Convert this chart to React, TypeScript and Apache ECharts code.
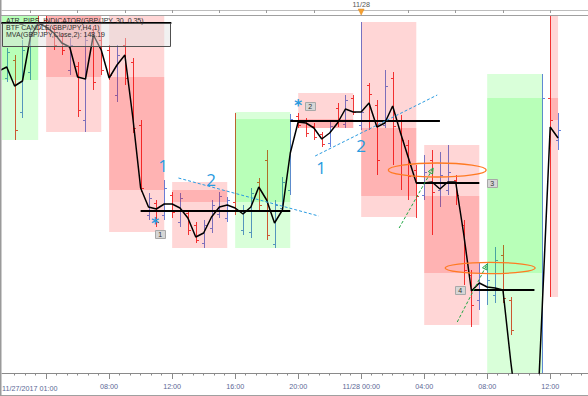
import React, { useEffect, useRef } from "react";
import * as echarts from "echarts";

// Time axis: hours since 11/27/2017 00:00. Prices: GBP/JPY.
// ---- 30-minute OHLC bars ----
const barTime = [1.5,2,2.5,3,3.5,4,4.5,5,5.5,6,6.5,7,7.5,8,8.5,9,9.5,10,10.5,11,11.5,12,12.5,13,13.5,14,14.5,15,15.5,16,16.5,17,17.5,18,18.5,19,19.5,20,20.5,21,21.5,22,22.5,23,23.5,24,24.5,25,25.5,26,26.5,27,27.5,28,28.5,29,29.5,30,30.5,31,31.5,32,32.5,33,33.5,34,34.5,35,35.5,36,36.5];
const barOpen = [148.44,148.53,148.27,148.47,148.74, 148.73,148.69,148.65,148.48,148.50,148.23,148.67,148.63, 148.58,148.355,148.605,148.52,148.205,147.755,147.815,147.755, 147.855,147.72,147.765,147.705,147.615,147.69,147.76,147.74, 147.82,147.68,147.67,147.92,148.03,147.61,147.79,147.88, 148.25,148.23,148.20,148.16,148.115,148.29,148.21,148.34, 148.205,148.405,148.305,148.205,148.44,148.23,148.105,147.98, 147.855,148.03,147.88,147.88,147.93,147.705,147.455,147.33, 147.38,147.355,147.555,147.33,146.905,146.63,146.53,146.48, 148.34,148.13];
const barHigh = [148.59,148.555,148.63,148.69,148.76, 148.75,148.705,148.665,148.64,148.52,148.67,148.70,148.67, 148.605,148.605,148.64,148.54,148.23,147.865,147.83,147.93, 147.87,147.865,147.78,147.72,147.73,147.83,147.87,147.845, 148.265,147.805,147.89,147.94,148.08,147.83,147.945,148.26, 148.265,148.24,148.215,148.17,148.22,148.315,148.355,148.355, 148.72,148.415,148.33,148.48,148.47,148.255,148.13,148.005, 148.055,148.08,148.07,148.105,147.955,147.73,147.48,147.515, 147.52,147.595,147.605,147.345,146.93,146.73,146.63,148.46, 148.78,148.265];
const barLow = [148.42,148.13,148.24,148.43,148.665, 148.67,148.58,148.555,148.455,148.245,148.17,148.38,148.455, 148.43,148.32,148.405,148.165,147.87,147.73,147.695,147.73, 147.74,147.695,147.655,147.615,147.59,147.665,147.74,147.72, 147.755,147.655,147.64,147.78,147.63,147.59,147.77,147.855, 148.19,148.145,148.13,148.095,148.095,148.195,148.19,148.255, 148.18,148.18,147.955,148.19,148.005,147.88,147.83,147.74, 147.83,147.655,147.795,147.855,147.805,147.405,147.195,147.28, 147.305,147.315,147.315,147.155,146.53,146.43,146.23,146.43, 147.345,148.08];
const barClose = [148.57,148.18,148.58,148.67,148.69, 148.69,148.605,148.58,148.605,148.28,148.63,148.42,148.48, 148.455,148.555,148.44,148.19,147.89,147.84,147.72,147.89, 147.77,147.84,147.68,147.63,147.705,147.805,147.85,147.83, 147.78,147.78,147.865,147.805,147.655,147.805,147.92,148.235, 148.205,148.165,148.145,148.11,148.20,148.23,148.33,148.27, 148.27,148.36,148.03,148.40,148.20,148.13,147.95,147.85, 147.97,147.87,147.955,147.97,147.855,147.48,147.305,147.465, 147.43,147.53,147.34,147.18,146.58,146.48,146.33,148.34, 148.23,148.18];

// ---- MVA(Close,2) ----
const mvaTime = [1,1.5,2,2.5,3,3.5,4,4.5,5,5.5,6,6.5,7,7.5,8,8.5,9,9.5,10,10.5,11,11.5,12,12.5,13,13.5,14,14.5,15,15.5,16,16.5,17,17.5,18,18.5,19,19.5,20,20.5,21,21.5,22,22.5,23,23.5,24,24.5,25,25.5,26,26.5,27,27.5,28,28.5,29,29.5,30,30.5,31,31.5,32,32.5,33,33.5,34,34.5,35,35.5,36,36.5];
const mvaValue = [148.475,148.495,148.40,148.425,148.645,148.715, 148.695,148.665,148.615,148.595,148.445,148.435,148.655,148.58, 148.44,148.505,148.555,148.245,147.89,147.795,147.785,147.81, 147.81,147.79,147.74,147.645,147.665,147.745,147.795,147.805, 147.79,147.76,147.795,147.895,147.83,147.715,147.78,148.065, 148.22,148.215,148.19,148.135,148.165,148.215,148.285,148.27, 148.27,148.315,148.195,148.215,148.30,148.165,148.04,147.915, 147.915,147.92,147.885,147.92,147.92,147.665,147.375,147.415, 147.395,147.39,147.38,147.02,146.705,146.63,146.43,147.305, 148.195,148.14];

// ---- BTF H4 candles ----
const candleStart = [0,4,8,12,16,20,24,28,32,36];
const candleEnd = [3.5,7.5,11.5,15.5,19.5,23.5,27.5,31.5,35.5,36.5];
const candleOpen = [148.43,148.77,148.445,147.88,147.82,148.235,148.19,147.85,147.465,148.34];
const candleHigh = [148.78,148.78,148.76,147.92,148.27,148.365,148.72,148.105,148.46,148.78];
const candleLow = [148.13,148.17,147.67,147.59,147.59,148.19,147.745,147.205,146.43,147.345];
const candleClose = [148.76,148.445,147.88,147.82,148.235,148.19,147.85,147.465,148.34,148.23];

// ---- horizontal levels ----
const levelStart = [1, 10, 19.5, 27.5, 31];
const levelEnd = [11.95, 19.5, 29, 31.5, 35];
const levelPrice = [148.715, 147.775, 148.225, 147.915, 147.38];

// ---- trend lines ----
const trendT1 = [12.4, 21.08];
const trendP1 = [147.94, 148.05];
const trendT2 = [21.3, 28.83];
const trendP2 = [147.75, 148.355];

// ---- wave labels ----
const waveText = ["1", "2", "1", "2", "*", "*"];
const waveTime = [11.43, 14.48, 21.46, 24.0, 10.92, 20.0];
const wavePrice = [148.005, 147.935, 147.995, 148.105, 147.71, 148.3];

// ---- numbered markers ----
const markerText = ["1", "2", "3", "4"];
const markerTime = [11.24, 20.76, 32.32, 30.29];
const markerPrice = [147.66, 148.3, 147.915, 147.38];

// ---- ellipses ----
const ellTime = [28.83, 32.19];
const ellPrice = [147.98, 147.49];
const ellHalfHours = [3.11, 2.86];
const ellHalfPrice = [0.035, 0.028];

// ---- arrows ----
const arrowFromT = [26.41, 30.1];
const arrowFromP = [147.69, 147.22];
const arrowToT = [28.57, 32.0];
const arrowToP = [147.99, 147.51];

// ---- axes ----
const axisMin = 1.2;
const axisMax = 38.4;
const majorTickHours = [4, 8, 12, 16, 20, 24, 28, 32, 36];
const topTickHours = [3, 6, 9, 12, 15, 18, 21, 24, 27, 30, 33, 36];
const bottomLabelHours = [8, 12, 16, 20, 24, 28, 32, 36];
const bottomLabelText = ["08:00", "12:00", "16:00", "20:00", "11/28 00:00", "04:00", "08:00", "12:00"];
const firstLabel = "11/27/2017 01:00";
const topLabelHour = 24;
const topLabelText = "11/28";
const legendLines = ["ATR_PIPS_INDICATOR(GBP/JPY, 30, 0.35)", "BTF CANDLE(GBP/JPY,H4,1)", "MVA(GBP/JPY,Close,2): 148.19"];

const UP = "#6483de";
const DOWN = "#f03a3a";
const BLUE = "#2a9be0";
const GREEN = "#22a844";
const ORANGE = "#ff7a22";
const AXIS_TXT = "#5c6896";

function buildOption() {
  // minor ticks every 40 minutes between the 4-hour major ticks
  const minorTickHours: number[] = [];
  for (let k = -3; k <= 60; k++) {
    const h = 4 + (k * 2) / 3;
    if (h > axisMin && h < axisMax && Math.abs(h - Math.round(h / 4) * 4) > 0.01) minorTickHours.push(h);
  }

  const series: any[] = [];

  series.push({
    type: "custom",
    clip: true,
    z: 2,
    data: barTime.map((t, i) => [t, barOpen[i], barHigh[i], barLow[i], barClose[i]]),
    encode: { x: 0, y: [1, 2, 3, 4] },
    renderItem: (params: any, api: any) => {
      const t = api.value(0);
      const o = api.value(1), h = api.value(2), l = api.value(3), c = api.value(4);
      const pH = api.coord([t, h]), pL = api.coord([t, l]);
      const pO = api.coord([t, o]), pC = api.coord([t, c]);
      const x = Math.round(pH[0]) + 0.5;
      const col = c >= o ? UP : DOWN;
      const yo = Math.round(pO[1]) + 0.5, yc = Math.round(pC[1]) + 0.5;
      return {
        type: "group",
        children: [
          { type: "line", shape: { x1: x, y1: pH[1], x2: x, y2: pL[1] }, style: { stroke: col, lineWidth: 1 } },
          { type: "line", shape: { x1: x - 2.5, y1: yo, x2: x, y2: yo }, style: { stroke: col, lineWidth: 1 } },
          { type: "line", shape: { x1: x, y1: yc, x2: x + 2.5, y2: yc }, style: { stroke: col, lineWidth: 1 } },
        ],
      };
    },
  });

  series.push({
    type: "custom",
    clip: true,
    z: 3,
    data: candleStart.map((s, i) => [s, candleEnd[i], candleOpen[i], candleHigh[i], candleLow[i], candleClose[i]]),
    encode: { x: [0, 1], y: [2, 3, 4, 5] },
    renderItem: (params: any, api: any) => {
      const t0 = api.value(0), t1 = api.value(1);
      const o = api.value(2), h = api.value(3), l = api.value(4), c = api.value(5);
      const a = api.coord([t0, h]), b = api.coord([t1, l]);
      const po = api.coord([t0, o]), pc = api.coord([t1, c]);
      const fill = c >= o ? "rgba(0,255,0,0.15)" : "rgba(255,0,0,0.16)";
      return {
        type: "group",
        children: [
          { type: "rect", shape: { x: a[0], y: a[1], width: b[0] - a[0], height: b[1] - a[1] }, style: { fill } },
          { type: "rect", shape: { x: po[0], y: Math.min(po[1], pc[1]), width: pc[0] - po[0], height: Math.abs(pc[1] - po[1]) }, style: { fill } },
        ],
      };
    },
  });

  series.push({
    type: "line",
    data: mvaTime.map((t, i) => [t, mvaValue[i]]),
    symbol: "none",
    showSymbol: false,
    clip: true,
    z: 5,
    lineStyle: { color: "#000", width: 1.5 },
  });

  levelStart.forEach((s, i) => {
    series.push({
      type: "line",
      data: [[s, levelPrice[i]], [levelEnd[i], levelPrice[i]]],
      symbol: "none",
      clip: true,
      z: 5,
      lineStyle: { color: "#000", width: 2 },
    });
  });

  trendT1.forEach((t, i) => {
    series.push({
      type: "line",
      data: [[t, trendP1[i]], [trendT2[i], trendP2[i]]],
      symbol: "none",
      clip: true,
      z: 6,
      lineStyle: { color: BLUE, width: 1, type: [3, 2] },
    });
  });

  series.push({
    type: "custom",
    clip: true,
    z: 7,
    data: ellTime.map((t, i) => [t, ellPrice[i]]),
    encode: { x: 0, y: 1 },
    renderItem: (params: any, api: any) => {
      const i = params.dataIndex;
      const p = api.coord([api.value(0), api.value(1)]);
      const rx = api.size([ellHalfHours[i], 0])[0];
      const ry = api.size([0, ellHalfPrice[i]])[1];
      return { type: "ellipse", shape: { cx: p[0], cy: p[1], rx, ry }, style: { fill: "none", stroke: ORANGE, lineWidth: 1.3 } };
    },
  });

  series.push({
    type: "custom",
    clip: true,
    z: 7,
    data: arrowFromT.map((t, i) => [t, arrowFromP[i], arrowToT[i], arrowToP[i]]),
    encode: { x: [0, 2], y: [1, 3] },
    renderItem: (params: any, api: any) => {
      const a = api.coord([api.value(0), api.value(1)]);
      const b = api.coord([api.value(2), api.value(3)]);
      const ang = Math.atan2(b[1] - a[1], b[0] - a[0]);
      const hl = 6, sp = 0.42;
      const h1 = [b[0] - hl * Math.cos(ang - sp), b[1] - hl * Math.sin(ang - sp)];
      const h2 = [b[0] - hl * Math.cos(ang + sp), b[1] - hl * Math.sin(ang + sp)];
      return {
        type: "group",
        children: [
          { type: "line", shape: { x1: a[0], y1: a[1], x2: b[0], y2: b[1] }, style: { stroke: GREEN, lineWidth: 1, lineDash: [3, 2] } },
          { type: "polygon", shape: { points: [h1, [b[0], b[1]], h2] }, style: { stroke: GREEN, lineWidth: 1, fill: "none" } },
        ],
      };
    },
  });

  series.push({
    type: "custom",
    clip: true,
    z: 8,
    data: waveTime.map((t, i) => [t, wavePrice[i]]),
    encode: { x: 0, y: 1 },
    renderItem: (params: any, api: any) => {
      const i = params.dataIndex;
      const p = api.coord([api.value(0), api.value(1)]);
      const star = waveText[i] === "*";
      return {
        type: "text",
        x: p[0],
        y: p[1],
        style: {
          text: waveText[i],
          fill: BLUE,
          fontSize: star ? 15 : 17,
          fontWeight: star ? "bold" : "normal",
          fontFamily: star ? "DejaVu Sans" : "Open Sans",
          align: "center",
          verticalAlign: "middle",
        },
      };
    },
  });

  series.push({
    type: "custom",
    clip: true,
    z: 8,
    data: markerTime.map((t, i) => [t, markerPrice[i]]),
    encode: { x: 0, y: 1 },
    renderItem: (params: any, api: any) => {
      const i = params.dataIndex;
      const p = api.coord([api.value(0), api.value(1)]);
      return {
        type: "group",
        children: [
          { type: "rect", shape: { x: Math.round(p[0]) - 5 + 0.5, y: Math.round(p[1]) - 4 + 0.5, width: 10, height: 8 }, style: { fill: "#d6d6d6", stroke: "#a8a8a8", lineWidth: 1 } },
          { type: "text", x: p[0], y: p[1] + 0.5, style: { text: markerText[i], fill: "#333", fontSize: 7, fontFamily: "Liberation Sans", align: "center", verticalAlign: "middle" } },
        ],
      };
    },
  });

  series.push({
    type: "custom",
    clip: false,
    z: 9,
    data: [[topLabelHour, 148.75]],
    encode: { x: 0, y: 1 },
    renderItem: (params: any, api: any) => {
      const p = api.coord([api.value(0), api.value(1)]);
      const x = p[0], y = p[1];
      return { type: "polygon", shape: { points: [[x - 3, y - 7], [x + 3, y - 7], [x, y - 1]] }, style: { fill: "#f5a030", stroke: "#e08a20", lineWidth: 0.5 } };
    },
  });

  const commonX = { type: "value", min: axisMin, max: axisMax, splitLine: { show: false } };

  return {
    animation: false,
    backgroundColor: "#ffffff",
    grid: { left: 2, right: 0, top: 16, bottom: 23, containLabel: false },
    xAxis: [
      {
        ...commonX,
        position: "bottom",
        axisLine: { show: true, onZero: false, lineStyle: { color: "#8a8a8a", width: 1 } },
        axisTick: { show: true, length: 6, customValues: majorTickHours, lineStyle: { color: "#8a8a8a" } },
        axisLabel: {
          show: true,
          customValues: bottomLabelHours,
          fontSize: 7.2,
          fontFamily: "Liberation Sans",
          color: AXIS_TXT,
          margin: 10,
          formatter: (v: number) => {
            const k = bottomLabelHours.findIndex((h) => Math.abs(h - v) < 0.01);
            return k >= 0 ? bottomLabelText[k] : "";
          },
        },
      },
      {
        ...commonX,
        position: "bottom",
        axisLine: { show: false, onZero: false },
        axisTick: { show: true, length: 2.5, customValues: minorTickHours, lineStyle: { color: "#8a8a8a" } },
        axisLabel: { show: false },
      },
      {
        ...commonX,
        position: "top",
        offset: 6,
        axisLine: { show: true, onZero: false, lineStyle: { color: "#bdbdbd", width: 1 } },
        axisTick: { show: true, inside: true, length: 3, customValues: topTickHours, lineStyle: { color: "#9a9a9a" } },
        axisLabel: {
          show: true,
          customValues: [topLabelHour],
          fontSize: 7.2,
          fontFamily: "Liberation Sans",
          color: "#555",
          margin: 2,
          formatter: (v: number) => (Math.abs(v - topLabelHour) < 0.01 ? topLabelText : ""),
        },
      },
    ],
    yAxis: { type: "value", min: 146.965, max: 148.75, show: false, splitLine: { show: false } },
    graphic: {
      elements: [
        { type: "line", z: 100, shape: { x1: 0, y1: 15.5, x2: 588, y2: 15.5 }, style: { stroke: "#a0a0a0", lineWidth: 1 } },
        { type: "line", z: 100, shape: { x1: 0, y1: 395.5, x2: 588, y2: 395.5 }, style: { stroke: "#a0a0a0", lineWidth: 1 } },
        { type: "line", z: 100, shape: { x1: 0.75, y1: 0, x2: 0.75, y2: 396 }, style: { stroke: "#9a9a9a", lineWidth: 1.5 } },
        { type: "rect", z: 100, shape: { x: 2.5, y: 23.5, width: 168, height: 23 }, style: { fill: "rgba(225,225,225,0.45)", stroke: "#505050", lineWidth: 1 } },
        ...legendLines.map((s, i) => ({
          type: "text",
          z: 101,
          x: 6,
          y: 20 + i * 7.2,
          style: { text: s, fill: "#303030", fontSize: 7, fontFamily: "Liberation Sans", align: "left", verticalAlign: "middle" },
        })),
        { type: "text", z: 101, x: 2, y: 388, style: { text: firstLabel, fill: AXIS_TXT, fontSize: 7.2, fontFamily: "Liberation Sans", align: "left", verticalAlign: "middle" } },
      ],
    },
    series,
  };
}

export default function App() {
  const ref = useRef<HTMLDivElement>(null);
  useEffect(() => {
    if (!ref.current) return;
    const chart = echarts.init(ref.current, undefined, { renderer: "svg" });
    chart.setOption(buildOption() as any);
    return () => chart.dispose();
  }, []);
  return (
    <div
      ref={ref}
      style={{ position: "absolute", left: 0, top: 0, width: 588, height: 396, background: "#fff" }}
    />
  );
}
